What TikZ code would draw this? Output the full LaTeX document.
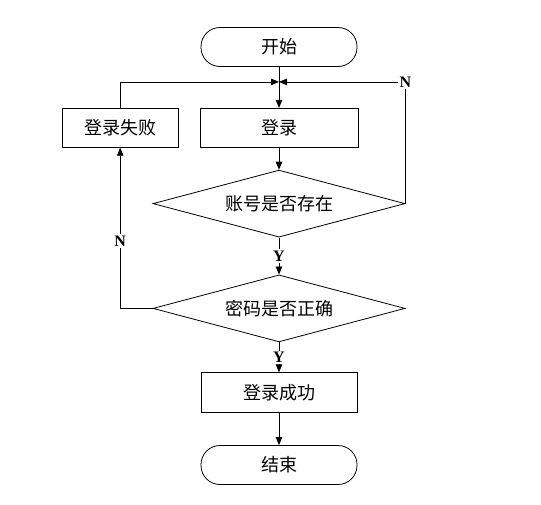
\documentclass[tikz,border=0pt]{standalone}
\usepackage{fontspec}
\setmainfont{Liberation Serif}
\newfontfamily\cjk{Noto Sans CJK SC}
\usetikzlibrary{shapes.geometric, arrows.meta, positioning, calc}

\begin{document}
\begin{tikzpicture}[
    x=1pt, y=1pt,
    node distance=30pt,
    terminal/.style={rectangle, rounded corners=19pt, minimum width=156pt, minimum height=39pt, draw, line width=0.8pt, font=\cjk\fontsize{18}{20}\selectfont},
    process/.style={rectangle, draw, line width=0.8pt, minimum width=158pt, minimum height=39pt, font=\cjk\fontsize{18}{20}\selectfont},
    decision/.style={diamond, draw, line width=0.8pt, aspect=3.7, minimum width=252pt, minimum height=67pt, inner sep=0pt, font=\cjk\fontsize{18}{20}\selectfont},
    yn/.style={font=\bfseries\fontsize{16}{18}\selectfont, fill=white, inner sep=1.5pt},
    arrow/.style={-{Triangle[length=8pt, width=6.5pt]}, line width=0.8pt}
]
    \useasboundingbox (0,0) rectangle (541,-504);

    % Nodes
    \node[terminal] (start) at (279,-47) {开始};
    \coordinate[below=15pt of start.south] (join);
    \node[process, below=41pt of start] (login) {登录};
    \node[process, left=21pt of login, minimum width=116pt] (fail) {登录失败};
    \node[decision, below=22pt of login] (acct) {账号是否存在};
    \node[decision, below=37pt of acct] (pwd) {密码是否正确};
    \node[process, below=30pt of pwd, minimum width=156pt, minimum height=40pt] (ok) {登录成功};
    \node[terminal, below=32pt of ok] (finish) {结束};
    \node[yn, fill=none] (nright) at (acct.east |- join) {N};

    % Links
    \draw[arrow] (start) -- (login);
    \draw[arrow] (fail) |- (join);
    \draw[arrow] (nright) -- (join);
    \draw[line width=0.8pt] (acct.east) -- (nright);
    \draw[arrow] (login) -- (acct);
    \draw[arrow] (acct) -- node[yn] {Y} (pwd);
    \draw[arrow] (pwd.west) -| node[yn, pos=0.71] {N} (fail);
    \draw[arrow] (pwd) -- node[yn] {Y} (ok);
    \draw[arrow] (ok) -- (finish);
\end{tikzpicture}
\end{document}
